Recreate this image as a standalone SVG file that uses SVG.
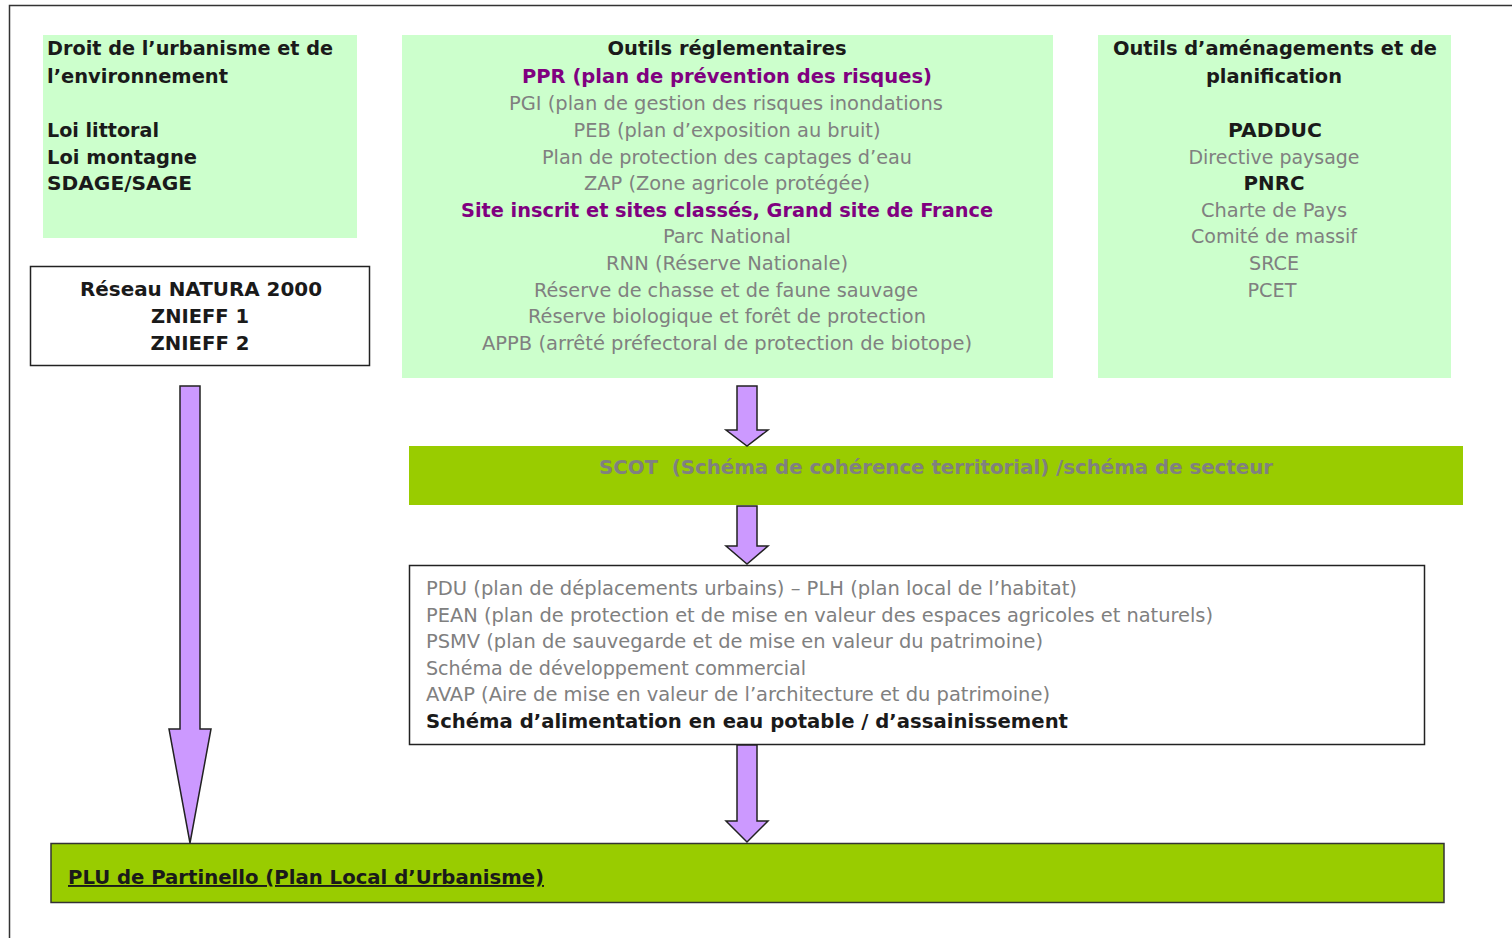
<svg xmlns="http://www.w3.org/2000/svg" width="1512" height="938" viewBox="0 0 1512 938">
<style>
  text { font-family: "DejaVu Sans", Verdana, sans-serif; font-size: 19px; }
  .b { font-weight: bold; fill: #1a1a1a; }
  .p { font-weight: bold; fill: #800080; }
  .g { fill: #808080; }
  .c { text-anchor: middle; }
  .lite { fill: #ccffcc; }
  .olive { fill: #99cc00; }
  .arrow { fill: #cc99ff; stroke: #222; stroke-width: 1.5; stroke-linejoin: miter; }
  .cond { font-family: "DejaVu Sans Condensed", "Liberation Sans", sans-serif; }
</style>
<rect width="1512" height="938" fill="#ffffff"/>
<path d="M9.5 938 V5.5 H1512" fill="none" stroke="#333" stroke-width="1.5"/>

<g id="droit">
  <rect class="lite" x="43" y="35" width="314" height="203"/>
  <text class="b" x="47" y="55" textLength="286" lengthAdjust="spacingAndGlyphs">Droit de l’urbanisme et de</text>
  <text class="b" x="47" y="83" textLength="181" lengthAdjust="spacingAndGlyphs">l’environnement</text>
  <text class="b" x="47" y="137" textLength="112" lengthAdjust="spacingAndGlyphs">Loi littoral</text>
  <text class="b" x="47" y="164" textLength="150" lengthAdjust="spacingAndGlyphs">Loi montagne</text>
  <text class="b" x="47" y="190" textLength="145" lengthAdjust="spacingAndGlyphs">SDAGE/SAGE</text>
</g>

<g id="reglementaires">
  <rect class="lite" x="402" y="35" width="651" height="343"/>
  <text class="b c" x="727" y="55" textLength="239" lengthAdjust="spacingAndGlyphs">Outils réglementaires</text>
  <text class="p c" x="727" y="83" textLength="410" lengthAdjust="spacingAndGlyphs">PPR (plan de prévention des risques)</text>
  <text class="g c" x="726" y="110" textLength="434" lengthAdjust="spacingAndGlyphs">PGI (plan de gestion des risques inondations</text>
  <text class="g c" x="727" y="137" textLength="307" lengthAdjust="spacingAndGlyphs">PEB (plan d’exposition au bruit)</text>
  <text class="g c" x="727" y="164" textLength="370" lengthAdjust="spacingAndGlyphs">Plan de protection des captages d’eau</text>
  <text class="g c" x="727" y="190" textLength="286" lengthAdjust="spacingAndGlyphs">ZAP (Zone agricole protégée)</text>
  <text class="p c" x="727" y="217" textLength="532" lengthAdjust="spacingAndGlyphs">Site inscrit et sites classés, Grand site de France</text>
  <text class="g c" x="727" y="243" textLength="128" lengthAdjust="spacingAndGlyphs">Parc National</text>
  <text class="g c" x="727" y="270" textLength="242" lengthAdjust="spacingAndGlyphs">RNN (Réserve Nationale)</text>
  <text class="g c" x="726" y="297" textLength="384" lengthAdjust="spacingAndGlyphs">Réserve de chasse et de faune sauvage</text>
  <text class="g c" x="727" y="323" textLength="398" lengthAdjust="spacingAndGlyphs">Réserve biologique et forêt de protection</text>
  <text class="g c" x="727" y="350" textLength="490" lengthAdjust="spacingAndGlyphs">APPB (arrêté préfectoral de protection de biotope)</text>
</g>

<g id="amenagements">
  <rect class="lite" x="1098" y="35" width="353" height="343"/>
  <text class="b c" x="1275" y="55" textLength="324" lengthAdjust="spacingAndGlyphs">Outils d’aménagements et de</text>
  <text class="b c" x="1274" y="83" textLength="136" lengthAdjust="spacingAndGlyphs">planification</text>
  <text class="b c" x="1275" y="137" textLength="94" lengthAdjust="spacingAndGlyphs">PADDUC</text>
  <text class="g c" x="1274" y="164" textLength="171" lengthAdjust="spacingAndGlyphs">Directive paysage</text>
  <text class="b c" x="1274" y="190" textLength="61" lengthAdjust="spacingAndGlyphs">PNRC</text>
  <text class="g c" x="1274" y="217" textLength="146" lengthAdjust="spacingAndGlyphs">Charte de Pays</text>
  <text class="g c" x="1274" y="243" textLength="166" lengthAdjust="spacingAndGlyphs">Comité de massif</text>
  <text class="g c" x="1274" y="270" textLength="50" lengthAdjust="spacingAndGlyphs">SRCE</text>
  <text class="g c" x="1272" y="297" textLength="49" lengthAdjust="spacingAndGlyphs">PCET</text>
</g>

<g id="natura">
  <rect x="30.5" y="266.5" width="339" height="99" fill="#ffffff" stroke="#222" stroke-width="1.5"/>
  <text class="b c" x="201" y="296" textLength="242" lengthAdjust="spacingAndGlyphs">Réseau NATURA 2000</text>
  <text class="b c" x="200" y="323" textLength="98" lengthAdjust="spacingAndGlyphs">ZNIEFF 1</text>
  <text class="b c" x="200" y="350" textLength="99" lengthAdjust="spacingAndGlyphs">ZNIEFF 2</text>
</g>

<g id="scot">
  <rect class="olive" x="409" y="446" width="1054" height="59"/>
  <text class="g cond" x="599" y="474" font-weight="bold" xml:space="preserve" textLength="674" lengthAdjust="spacingAndGlyphs">SCOT  (Schéma de cohérence territorial) /schéma de secteur</text>
</g>

<g id="plans">
  <rect x="409.5" y="565.5" width="1015" height="179" fill="#ffffff" stroke="#222" stroke-width="1.5"/>
  <text class="g cond" x="426" y="595" textLength="651" lengthAdjust="spacingAndGlyphs">PDU (plan de déplacements urbains) – PLH (plan local de l’habitat)</text>
  <text class="g cond" x="426" y="622" textLength="787" lengthAdjust="spacingAndGlyphs">PEAN (plan de protection et de mise en valeur des espaces agricoles et naturels)</text>
  <text class="g cond" x="426" y="648" textLength="617" lengthAdjust="spacingAndGlyphs">PSMV (plan de sauvegarde et de mise en valeur du patrimoine)</text>
  <text class="g cond" x="426" y="675" textLength="380" lengthAdjust="spacingAndGlyphs">Schéma de développement commercial</text>
  <text class="g cond" x="426" y="701" textLength="624" lengthAdjust="spacingAndGlyphs">AVAP (Aire de mise en valeur de l’architecture et du patrimoine)</text>
  <text class="b cond" x="426" y="728" fill="#111" textLength="642" lengthAdjust="spacingAndGlyphs">Schéma d’alimentation en eau potable / d’assainissement</text>
</g>

<g id="plu">
  <rect x="51" y="843.5" width="1393" height="59" class="olive" stroke="#333" stroke-width="1.5"/>
  <text class="b cond" x="68" y="884" text-decoration="underline" textLength="476" lengthAdjust="spacingAndGlyphs">PLU de Partinello (Plan Local d’Urbanisme)</text>
</g>

<g id="connectors">
  <path class="arrow" d="M180 386 H200 V729 H211 L190 843 L169 729 H180 Z"/>
  <path class="arrow" d="M737 386 H757 V430 H768 L747 446 L726 430 H737 Z"/>
  <path class="arrow" d="M737 506 H757 V546 H768 L747 564 L726 546 H737 Z"/>
  <path class="arrow" d="M737 745 H757 V821 H768 L747 842 L726 821 H737 Z"/>
</g>
</svg>
